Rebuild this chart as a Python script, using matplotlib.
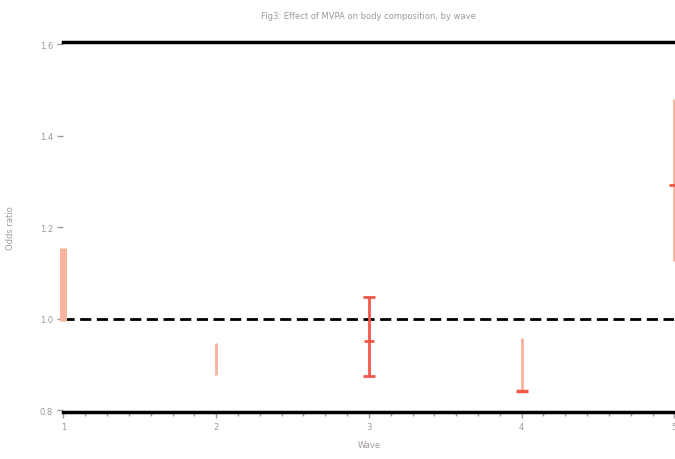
import matplotlib
matplotlib.use("Agg")
import matplotlib.pyplot as plt
import numpy as np

# data
waves = [1, 2, 3, 4, 5]
lower = [0.995, 0.878, 0.875, 0.843, 1.125]
upper = [1.155, 0.948, 1.048, 0.958, 1.479]
estimate = [None, None, 0.952, None, 1.293]
sig = [False, False, True, False, False]
yticks = [0.8, 1.0, 1.2, 1.4, 1.6]
ytick_labels = ["0.8", "1.0", "1.2", "1.4", "1.6"]

light = "#f9b39c"
red = "#f2584a"
grey = "#a09898"

fig = plt.figure(figsize=(6.75, 4.6), dpi=100)
ax = fig.add_axes([0.094, 0.102, 0.905, 0.805])

for i, w in enumerate(waves):
    lw = 5 if i == 0 else 2
    col = red if sig[i] else light
    ax.plot([w, w], [lower[i], upper[i]], color=col, lw=lw, solid_capstyle="butt",
            zorder=3, clip_on=False)
    if sig[i]:
        ax.plot([w, w], [lower[i], upper[i]], ls="none", marker="_", ms=8, mew=2,
                color=red, zorder=4, clip_on=False)
    if estimate[i] is not None:
        ax.plot(w, estimate[i], ls="none", marker="_", ms=7, mew=2, color=red,
                zorder=4, clip_on=False)
# lower bound of wave 4 is marked
ax.plot(waves[3], lower[3], ls="none", marker="_", ms=8, mew=2.5, color=red, zorder=4)

ax.axhline(1.0, color="black", lw=2, ls=(0, (4, 2)), zorder=2)

ax.set_xlim(1, 5)
ax.set_ylim(0.796, 1.605)
ax.set_xticks(waves)
ax.set_xticks(np.arange(1, 5, 1 / 7), minor=True)
ax.set_yticks(yticks)
ax.set_yticklabels(ytick_labels)

for s in ["left", "right"]:
    ax.spines[s].set_visible(False)
for s in ["top", "bottom"]:
    ax.spines[s].set_linewidth(2.5)

ax.tick_params(axis="both", which="major", labelsize=6, labelcolor=grey, color=grey, length=4, width=1)
ax.tick_params(axis="x", which="minor", color=grey, length=3, width=1)

ax.set_xlabel("Wave", fontsize=6, color=grey, labelpad=6)
ax.set_ylabel("Odds ratio", fontsize=6, color=grey, labelpad=18)
ax.set_title("Fig3: Effect of MVPA on body composition, by wave", fontsize=6, color=grey, pad=17)

fig.savefig("out.png", dpi=100)
